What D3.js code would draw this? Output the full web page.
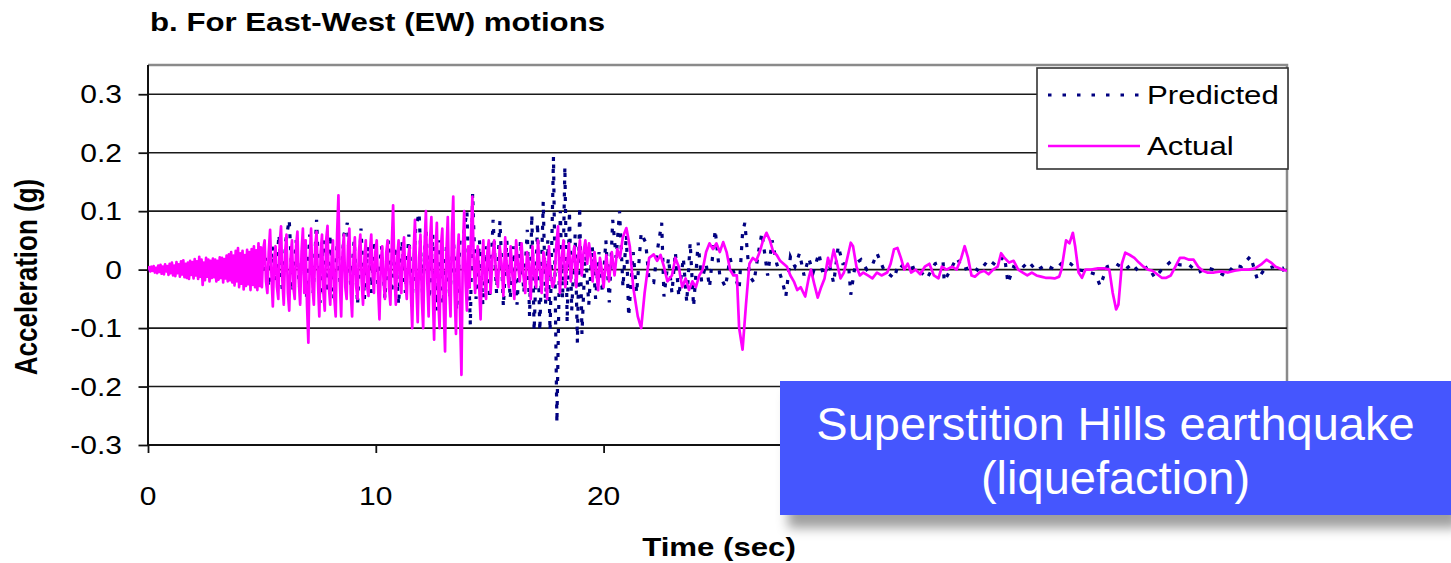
<!DOCTYPE html>
<html>
<head>
<meta charset="utf-8">
<script src="https://cdn.jsdelivr.net/npm/d3@7"></script>
<style>
  html, body { margin: 0; padding: 0; background: #fff; }
  svg { display: block; }
  text { font-family: "Liberation Sans", Arial, Helvetica, sans-serif; }
</style>
</head>
<body>
<svg id="chart" width="1451" height="563"></svg>
<script>
// ---- Chart data -----------------------------------------------------------
const chartTitle = "b. For East-West (EW) motions";
const xTitle = "Time (sec)";
const yTitle = "Acceleration (g)";
const seriesNames = ["Predicted", "Actual"];
const calloutLines = ["Superstition Hills earthquake", "(liquefaction)"];

const yTicks = [-0.3, -0.2, -0.1, 0, 0.1, 0.2, 0.3];
const xTicks = [0, 10, 20, 30, 40, 50];

// Recorded surface motion: [time (s), acceleration (g)]
const actualPoints = [
  [0,0],[0.05,0.004],[0.1,-0.003],[0.15,0.005],[0.2,-0.002],[0.25,0.006],[0.3,-0.005],[0.35,0.003],[0.4,-0.006],[0.45,0.007],
  [0.5,-0.004],[0.55,0.008],[0.6,-0.007],[0.65,0.005],[0.7,-0.008],[0.75,0.009],[0.8,-0.003],[0.85,0.006],[0.9,-0.009],[0.95,0.01],
  [1.0,-0.006],[1.05,0.012],[1.1,-0.01],[1.15,0.007],[1.2,-0.011],[1.25,0.013],[1.3,-0.006],[1.35,0.009],[1.4,-0.012],[1.45,0.014],
  [1.5,-0.008],[1.55,0.016],[1.6,-0.013],[1.65,0.01],[1.7,-0.014],[1.75,0.012],[1.8,-0.016],[1.85,0.015],[1.9,-0.009],[1.95,0.013],
  [2.0,-0.015],[2.05,0.018],[2.1,-0.01],[2.15,0.014],[2.2,-0.016],[2.25,0.022],[2.3,-0.012],[2.35,0.017],[2.4,-0.026],[2.45,0.012],
  [2.5,-0.018],[2.55,0.02],[2.6,-0.012],[2.65,0.017],[2.7,-0.02],[2.75,0.015],[2.8,-0.014],[2.85,0.019],[2.9,-0.013],[2.95,0.017],
  [3.0,-0.02],[3.05,0.015],[3.1,-0.017],[3.15,0.021],[3.2,-0.014],[3.25,0.02],[3.3,-0.022],[3.35,0.018],[3.4,-0.015],[3.45,0.024],
  [3.5,-0.02],[3.55,0.026],[3.6,-0.018],[3.65,0.03],[3.7,-0.022],[3.75,0.024],[3.8,-0.027],[3.85,0.032],[3.9,-0.02],[3.95,0.037],
  [4.0,-0.03],[4.05,0.028],[4.1,-0.024],[4.15,0.032],[4.2,-0.034],[4.25,0.025],[4.3,-0.028],[4.35,0.034],[4.4,-0.025],[4.45,0.03],
  [4.5,-0.035],[4.55,0.035],[4.6,-0.026],[4.65,0.04],[4.7,-0.03],[4.75,0.033],[4.8,-0.035],[4.85,0.045],[4.9,-0.028],[4.95,0.038],
  [5.0,-0.03],[5.06,0.035],[5.12,0.05],[5.18,-0.02],[5.24,-0.04],[5.3,0.03],[5.36,0.068],[5.42,-0.01],[5.48,-0.063],[5.54,0.02],
  [5.6,0.04],[5.66,-0.03],[5.72,-0.05],[5.78,0.045],[5.84,0.074],[5.9,-0.02],[5.96,-0.06],[6.02,0.03],[6.08,0.06],[6.14,-0.04],
  [6.2,-0.07],[6.26,0.02],[6.32,0.05],[6.38,-0.03],[6.44,-0.05],[6.5,0.04],[6.56,0.065],[6.62,-0.02],[6.68,-0.06],[6.74,0.03],
  [6.8,0.07],[6.86,-0.04],[6.92,0.05],[6.98,-0.06],[7.04,-0.125],[7.1,0.02],[7.16,0.07],[7.22,-0.03],[7.28,-0.06],[7.34,0.04],
  [7.4,0.065],[7.46,-0.02],[7.52,-0.08],[7.58,0.03],[7.64,0.06],[7.7,-0.04],[7.76,-0.07],[7.82,0.05],[7.88,0.075],[7.94,-0.03],
  [8.0,-0.06],[8.06,0.02],[8.12,0.05],[8.18,-0.05],[8.24,-0.08],[8.3,0.06],[8.36,0.127],[8.42,-0.02],[8.48,-0.08],[8.54,0.03],
  [8.6,0.06],[8.66,-0.03],[8.72,-0.05],[8.78,0.04],[8.84,0.07],[8.9,-0.04],[8.96,-0.08],[9.02,0.02],[9.08,0.055],[9.14,-0.03],
  [9.2,-0.05],[9.26,0.03],[9.32,0.06],[9.38,-0.02],[9.44,-0.06],[9.5,0.02],[9.56,0.05],[9.62,-0.03],[9.68,-0.045],[9.74,0.03],
  [9.8,0.06],[9.86,-0.01],[9.92,-0.04],[9.98,0.03],[10.04,0.05],[10.1,-0.03],[10.16,-0.085],[10.22,0.01],[10.28,0.04],[10.34,-0.02],
  [10.4,-0.05],[10.46,0.03],[10.52,0.05],[10.58,-0.03],[10.64,-0.06],[10.7,0.04],[10.76,0.11],[10.82,-0.01],[10.88,-0.06],[10.94,0.02],
  [11.0,0.05],[11.06,-0.02],[11.12,-0.04],[11.18,0.03],[11.24,0.055],[11.3,-0.02],[11.36,-0.05],[11.42,0.02],[11.48,0.04],[11.54,-0.04],
  [11.6,-0.1],[11.66,0.03],[11.72,0.085],[11.78,-0.03],[11.84,-0.09],[11.9,0.02],[11.96,0.06],[12.02,-0.05],[12.08,-0.1],[12.14,0.04],
  [12.2,0.1],[12.26,-0.02],[12.32,-0.08],[12.38,0.05],[12.44,0.09],[12.5,-0.04],[12.56,-0.12],[12.62,0.03],[12.68,0.08],[12.74,-0.05],
  [12.8,-0.1],[12.86,0.04],[12.92,0.07],[12.98,-0.06],[13.04,-0.14],[13.1,0.03],[13.16,0.09],[13.22,-0.03],[13.28,-0.08],[13.34,0.06],
  [13.4,0.125],[13.46,-0.04],[13.52,-0.11],[13.58,0.02],[13.64,0.06],[13.7,-0.08],[13.76,-0.18],[13.82,0.03],[13.88,0.1],[13.94,-0.02],
  [14.0,-0.07],[14.06,0.04],[14.12,-0.03],[14.18,0.06],[14.24,0.125],[14.3,0.01],[14.36,-0.04],[14.42,0.02],[14.48,0.04],[14.54,-0.03],
  [14.6,-0.085],[14.66,0.01],[14.72,0.05],[14.78,-0.02],[14.84,-0.05],[14.9,0.03],[14.96,0.05],
  [15.04,-0.04],[15.12,0.02],[15.2,0.05],[15.28,-0.01],[15.36,-0.03],[15.44,0.04],[15.52,0.01],[15.6,-0.045],[15.68,0.055],[15.76,0.0],
  [15.84,-0.03],[15.92,0.04],[16.0,-0.01],[16.08,-0.05],[16.16,0.05],[16.24,0.01],[16.32,-0.02],[16.4,0.045],[16.48,-0.01],[16.56,-0.04],
  [16.64,0.03],[16.72,0.01],[16.8,-0.05],[16.88,0.04],[16.96,-0.01],[17.04,-0.03],[17.12,0.05],[17.2,0.0],[17.28,-0.04],[17.36,0.03],
  [17.44,0.01],[17.52,-0.05],[17.6,0.04],[17.68,-0.01],[17.76,-0.03],[17.84,-0.02],[17.92,0.04],[18.0,0.074],[18.08,-0.04],[18.16,0.02],
  [18.24,0.05],[18.32,-0.03],[18.4,0.01],[18.48,0.045],[18.56,-0.02],[18.64,0.02],[18.72,0.04],[18.8,-0.03],[18.88,0.02],[18.96,0.05],
  [19.04,-0.01],[19.12,0.03],[19.2,0.05],[19.28,0.01],[19.36,0.045],[19.44,0.02],[19.52,-0.02],[19.6,0.03],[19.68,0.0],[19.76,-0.035],
  [19.84,0.02],[19.92,0.0],[20.0,-0.03],[20.12,0.025],[20.24,-0.02],[20.36,0.03],[20.48,-0.01],
  [20.6,0.035],[20.72,0.02],[20.84,0.055],[21.0,0.071],[21.15,0.04],[21.3,-0.03],[21.5,-0.08],[21.65,-0.1],
  [21.8,-0.04],[22.0,0.02],[22.2,0.026],[22.35,0.015],[22.5,0.025],[22.65,0.005],[22.8,-0.02],[23.0,-0.01],
  [23.15,0.02],[23.3,0.005],[23.45,-0.03],[23.6,-0.015],[23.75,-0.035],[23.9,-0.02],[24.05,-0.03],[24.2,-0.01],
  [24.35,0.0],[24.5,0.03],[24.65,0.045],[24.8,0.035],[24.95,0.045],[25.1,0.03],[25.25,0.047],[25.4,0.03],
  [25.55,0.0],[25.7,-0.01],[25.85,-0.01],[25.95,-0.1],[26.1,-0.137],[26.25,-0.06],[26.4,0.01],[26.55,0.02],
  [26.7,0.015],[26.85,0.03],[27.0,0.05],[27.15,0.063],[27.3,0.05],[27.45,0.03],[27.6,0.025],[27.75,0.015],
  [27.9,0.01],[28.05,0.005],[28.2,-0.01],[28.35,-0.02],[28.5,-0.035],[28.65,-0.03],[28.85,-0.046],[29.0,-0.015],
  [29.1,0.0],[29.25,-0.025],[29.4,-0.048],[29.55,-0.03],[29.7,-0.015],[29.85,0.02],[29.95,0.005],[30.1,0.034],
  [30.25,0.01],[30.4,-0.015],[30.55,-0.005],[30.7,0.02],[30.85,0.046],[30.95,0.04],[31.1,0.005],[31.25,-0.01],
  [31.4,-0.005],[31.6,-0.01],[31.8,-0.015],[32.0,-0.005],[32.2,-0.01],[32.45,-0.005],[32.6,0.01],[32.75,0.035],
  [32.9,0.037],[33.05,0.02],[33.2,0.0],[33.35,0.01],[33.5,-0.005],[33.7,0.0],[33.9,-0.008],[34.1,0.005],
  [34.3,0.01],[34.5,-0.01],[34.7,-0.015],[34.85,0.005],[35.05,0.0],[35.3,0.005],[35.5,0.0],[35.7,0.02],
  [35.85,0.04],[36.0,0.02],[36.15,-0.01],[36.3,-0.012],[36.5,-0.005],[36.7,-0.002],[36.9,-0.008],[37.1,0.0],
  [37.3,0.005],[37.45,0.028],[37.6,0.02],[37.8,0.012],[38.0,0.015],[38.2,0.0],[38.4,-0.005],[38.6,-0.01],
  [38.8,-0.005],[39.0,-0.01],[39.2,-0.012],[39.4,-0.014],[39.6,-0.014],[39.8,-0.015],[40.0,-0.012],[40.1,0.0],
  [40.3,0.05],[40.45,0.045],[40.6,0.063],[40.7,0.04],[40.85,-0.005],[41.0,-0.014],[41.15,0.0],[41.4,0.0],
  [41.7,0.002],[42.0,0.002],[42.2,0.0],[42.35,-0.04],[42.5,-0.068],[42.6,-0.06],[42.75,0.01],[42.9,0.029],
  [43.1,0.025],[43.3,0.02],[43.5,0.012],[43.7,0.005],[43.9,0.0],[44.1,-0.002],[44.3,-0.008],[44.5,-0.014],
  [44.7,-0.014],[44.9,-0.01],[45.1,0.005],[45.3,0.02],[45.5,0.02],[45.7,0.017],[45.9,0.017],[46.1,0.005],
  [46.3,-0.002],[46.5,-0.005],[46.8,-0.005],[47.1,-0.003],[47.4,-0.005],[47.7,-0.002],[48.0,0.0],[48.3,0.0],
  [48.6,0.002],[48.9,0.01],[49.1,0.017],[49.3,0.012],[49.5,0.005],[49.8,0.0],[50.0,-0.002]
];

// Computed surface motion: [time (s), acceleration (g)]
const predictedPoints = [
  [0,0],[0.25,0.002],[0.5,-0.002],[0.75,0.003],[1.0,-0.003],[1.25,0.002],[1.5,-0.003],[1.75,0.004],[2.0,-0.004],
  [2.25,0.005],[2.5,-0.004],[2.75,0.006],[3.0,-0.005],[3.25,0.006],[3.5,-0.006],[3.75,0.008],[4.0,-0.007],
  [4.25,0.01],[4.5,-0.01],[4.75,0.012],[5.0,-0.01],[5.15,0.02],[5.3,-0.03],[5.45,0.04],[5.6,-0.02],[5.75,0.06],
  [5.9,-0.04],[6.05,0.05],[6.2,0.085],[6.35,-0.038],[6.5,0.05],[6.65,-0.03],[6.8,0.04],[6.95,-0.05],[7.1,0.06],
  [7.25,-0.04],[7.4,0.085],[7.55,-0.057],[7.7,0.05],[7.85,-0.04],[8.0,0.06],[8.15,-0.05],[8.3,0.04],[8.45,-0.03],
  [8.6,0.06],[8.75,0.08],[8.9,-0.03],[9.05,0.05],[9.2,-0.06],[9.35,0.07],[9.5,-0.05],[9.65,0.04],[9.8,-0.04],
  [9.95,0.05],[10.1,-0.03],[10.25,0.04],[10.4,-0.05],[10.55,0.05],[10.7,-0.04],[10.85,0.04],[11.0,-0.06],
  [11.15,0.05],[11.3,-0.04],[11.45,0.06],[11.6,-0.05],[11.75,0.07],[11.9,0.097],[12.05,-0.04],[12.2,0.07],
  [12.35,-0.05],[12.5,0.06],[12.65,-0.07],[12.8,0.05],[12.95,-0.06],[13.1,0.04],[13.25,-0.05],[13.4,0.06],
  [13.55,-0.07],[13.7,0.05],[13.85,0.06],[14.0,0.1],[14.15,-0.095],[14.25,0.13],[14.4,-0.05],[14.55,0.05],
  [14.7,-0.06],[14.85,0.04],[15.0,-0.05],[15.15,0.085],[15.3,-0.04],[15.45,0.083],[15.6,-0.063],[15.75,0.05],
  [15.9,-0.05],[16.05,0.04],[16.2,-0.06],[16.35,0.05],[16.5,-0.04],[16.65,0.068],[16.75,-0.08],[16.85,0.094],
  [16.95,-0.105],[17.1,0.08],[17.2,-0.105],[17.35,0.116],[17.45,-0.06],[17.55,0.05],[17.65,-0.105],[17.8,0.193],
  [17.95,-0.262],[18.1,0.1],[18.2,-0.05],[18.3,0.176],[18.4,-0.09],[18.5,0.1],[18.6,-0.07],[18.75,0.06],
  [18.85,-0.125],[18.95,0.108],[19.05,-0.11],[19.2,0.035],[19.35,-0.06],[19.5,0.04],[19.65,-0.05],[19.8,0.03],
  [19.95,-0.04],[20.1,0.05],[20.25,-0.056],[20.4,0.085],[20.55,0.02],[20.7,0.1],[20.85,-0.03],[21.0,0.06],
  [21.1,-0.08],[21.3,0.03],[21.45,-0.04],[21.65,0.063],[21.85,0.046],[22.0,-0.02],[22.2,-0.022],[22.35,0.03],
  [22.55,0.08],[22.65,-0.046],[22.85,0.02],[23.0,-0.04],[23.15,0.03],[23.3,-0.046],[23.5,0.02],[23.65,-0.056],
  [23.8,0.046],[23.95,-0.063],[24.15,0.046],[24.3,-0.02],[24.5,0.01],[24.65,-0.03],[24.9,0.068],[25.1,-0.01],
  [25.35,-0.03],[25.55,0.02],[25.75,-0.01],[25.95,-0.034],[26.1,0.063],[26.2,0.08],[26.4,-0.01],[26.6,-0.022],
  [26.8,0.03],[26.95,0.063],[27.2,-0.01],[27.4,0.05],[27.6,0.01],[27.85,-0.02],[28.0,-0.046],[28.2,0.022],
  [28.4,0.005],[28.6,0.028],[28.8,-0.01],[29.0,0.02],[29.2,-0.005],[29.45,0.028],[29.65,-0.011],[29.9,0.01],
  [30.1,-0.023],[30.3,0.04],[30.5,0.01],[30.75,0.01],[30.85,-0.043],[31.05,0.01],[31.3,0.017],[31.55,0.0],
  [31.8,0.008],[32.0,0.028],[32.3,0.0],[32.75,-0.015],[32.95,0.01],[33.3,0.0],[33.7,0.005],[34.2,-0.015],
  [34.55,0.01],[34.9,0.015],[34.95,-0.02],[35.3,0.005],[35.5,0.02],[35.8,0.0],[36.2,0.005],[36.5,-0.003],
  [36.9,0.017],[37.2,0.008],[37.6,0.023],[37.75,-0.023],[38.0,0.005],[38.3,0.0],[38.65,0.014],[39.0,-0.002],
  [39.4,0.008],[39.8,0.0],[40.2,0.014],[40.5,0.01],[40.8,0.0],[41.2,-0.003],[41.6,-0.008],[41.8,-0.028],
  [42.1,0.005],[42.5,0.01],[42.9,0.0],[43.2,0.01],[43.5,-0.004],[43.9,0.005],[44.2,-0.014],[44.5,0.0],
  [44.9,0.014],[45.3,0.008],[45.7,0.008],[46.1,-0.005],[46.5,0.003],[46.9,-0.002],[47.3,-0.011],[47.7,0.008],
  [48.0,0.005],[48.4,0.023],[48.7,-0.017],[49.0,0.0],[49.4,0.005],[49.8,0.003],[50.0,-0.014]
];

// ---- Drawing -------------------------------------------------------------
const svg = d3.select("#chart");
const W = 1451, H = 563;
const plot = { left: 148, right: 1287, top: 65, bottom: 445 };
const callout = { x: 780, y: 381, w: 671, h: 134 };
const textStretch = 1.2;           // glyphs in this figure are drawn wide
const fontFamily = '"Liberation Sans", Arial, Helvetica, sans-serif';

const x = d3.scaleLinear().domain([0, 50]).range([plot.left, plot.right]);
const y = d3.scaleLinear().domain([-0.3, 0.35]).range([plot.bottom, plot.top]);

svg.append("rect").attr("width", W).attr("height", H).attr("fill", "#fff");

const defs = svg.append("defs");
defs.append("clipPath").attr("id", "plot-clip")
  .append("rect")
  .attr("x", plot.left).attr("y", plot.top)
  .attr("width", plot.right - plot.left).attr("height", plot.bottom - plot.top);

const shadow = defs.append("filter").attr("id", "box-shadow")
  .attr("x", "-10%").attr("y", "-20%").attr("width", "130%").attr("height", "170%");
shadow.append("feDropShadow")
  .attr("dx", 8).attr("dy", 13).attr("stdDeviation", 6)
  .attr("flood-color", "#000").attr("flood-opacity", 0.38);

// Text helper: horizontally widened glyphs
function wideText(parent, px, py, str, opts = {}) {
  const rot = opts.rotate ? ` rotate(${opts.rotate})` : "";
  return parent.append("text")
    .attr("transform", `translate(${px},${py}) scale(${textStretch},1)${rot}`)
    .attr("text-anchor", opts.anchor || "start")
    .attr("font-size", opts.size || 25)
    .attr("font-weight", opts.weight || "normal")
    .attr("font-family", fontFamily)
    .attr("fill", opts.fill || "#000")
    .text(str);
}

// Frame (top and right edges, light grey)
svg.append("path")
  .attr("d", `M${plot.left},${plot.top}H${plot.right}V${plot.bottom}`)
  .attr("fill", "none").attr("stroke", "#8a8a8a").attr("stroke-width", 2.5);

// Horizontal gridlines
svg.append("g").selectAll("line")
  .data(yTicks.filter(v => v > -0.3))
  .join("line")
  .attr("x1", plot.left).attr("x2", plot.right)
  .attr("y1", d => y(d)).attr("y2", d => y(d))
  .attr("stroke", "#1a1a1a").attr("stroke-width", 1.6);

// Y axis
const yAxis = d3.axisLeft(y).tickValues(yTicks).tickSize(9.5).tickPadding(0).tickFormat(() => "");
const gy = svg.append("g").attr("transform", `translate(${plot.left},0)`).call(yAxis);
gy.select(".domain").attr("d", `M0,${plot.top}V${plot.bottom}`).attr("stroke", "#111").attr("stroke-width", 2);
gy.selectAll(".tick line").attr("stroke", "#111").attr("stroke-width", 1.8);
yTicks.forEach(v => {
  wideText(svg, plot.left - 26, y(v) + 9, v === 0 ? "0" : v.toFixed(1), { anchor: "end", size: 25 });
});

// X axis (labels that fall under the callout box are hidden by it, so they are skipped)
const xAxis = d3.axisBottom(x).tickValues(xTicks).tickSize(8).tickFormat(() => "");
const gx = svg.append("g").attr("transform", `translate(0,${plot.bottom})`).call(xAxis);
gx.select(".domain").attr("d", `M${plot.left},0H${plot.right}`).attr("stroke", "#111").attr("stroke-width", 2);
gx.selectAll(".tick line").attr("stroke", "#111").attr("stroke-width", 1.8);
xTicks.filter(v => x(v) + 20 < callout.x).forEach(v => {
  wideText(svg, x(v), 505, String(v), { anchor: "middle", size: 25 });
});

// Series
const line = d3.line().x(d => x(d[0])).y(d => y(d[1]));
const series = svg.append("g").attr("clip-path", "url(#plot-clip)");
series.append("path")
  .datum(predictedPoints)
  .attr("d", line)
  .attr("fill", "none")
  .attr("stroke", "#000080")
  .attr("stroke-width", 3.2)
  .attr("stroke-dasharray", "4,8");
series.append("path")
  .datum(actualPoints)
  .attr("d", line)
  .attr("fill", "none")
  .attr("stroke", "#ff00ff")
  .attr("stroke-width", 2.7)
  .attr("stroke-linejoin", "round");

// Legend
const legend = svg.append("g");
legend.append("rect")
  .attr("x", 1037).attr("y", 68).attr("width", 251).attr("height", 101)
  .attr("fill", "#fff").attr("stroke", "#333").attr("stroke-width", 1.6);
const legendRows = [
  { name: seriesNames[0], color: "#000080", dash: "3.5,11", w: 3, cy: 95 },
  { name: seriesNames[1], color: "#ff00ff", dash: null, w: 2.5, cy: 146 }
];
legendRows.forEach(r => {
  legend.append("line")
    .attr("x1", 1048).attr("x2", 1140).attr("y1", r.cy).attr("y2", r.cy)
    .attr("stroke", r.color).attr("stroke-width", r.w)
    .attr("stroke-dasharray", r.dash);
  wideText(legend, 1147, r.cy + 9, r.name, { size: 26 });
});

// Titles
wideText(svg, 150, 31, chartTitle, { size: 26, weight: "bold" });
wideText(svg, 719, 556, xTitle, { size: 26, weight: "bold", anchor: "middle" });
wideText(svg, 37, 277, yTitle, { size: 26, weight: "bold", anchor: "middle", rotate: -90 });

// Callout box
const box = svg.append("g");
box.append("rect")
  .attr("x", callout.x).attr("y", callout.y).attr("width", callout.w).attr("height", callout.h)
  .attr("fill", "#4556fe")
  .attr("filter", "url(#box-shadow)");
calloutLines.forEach((t, i) => {
  box.append("text")
    .attr("x", callout.x + callout.w / 2).attr("y", 440 + i * 54)
    .attr("text-anchor", "middle")
    .attr("font-size", 47)
    .attr("font-family", fontFamily)
    .attr("fill", "#fff")
    .text(t);
});
</script>
</body>
</html>
